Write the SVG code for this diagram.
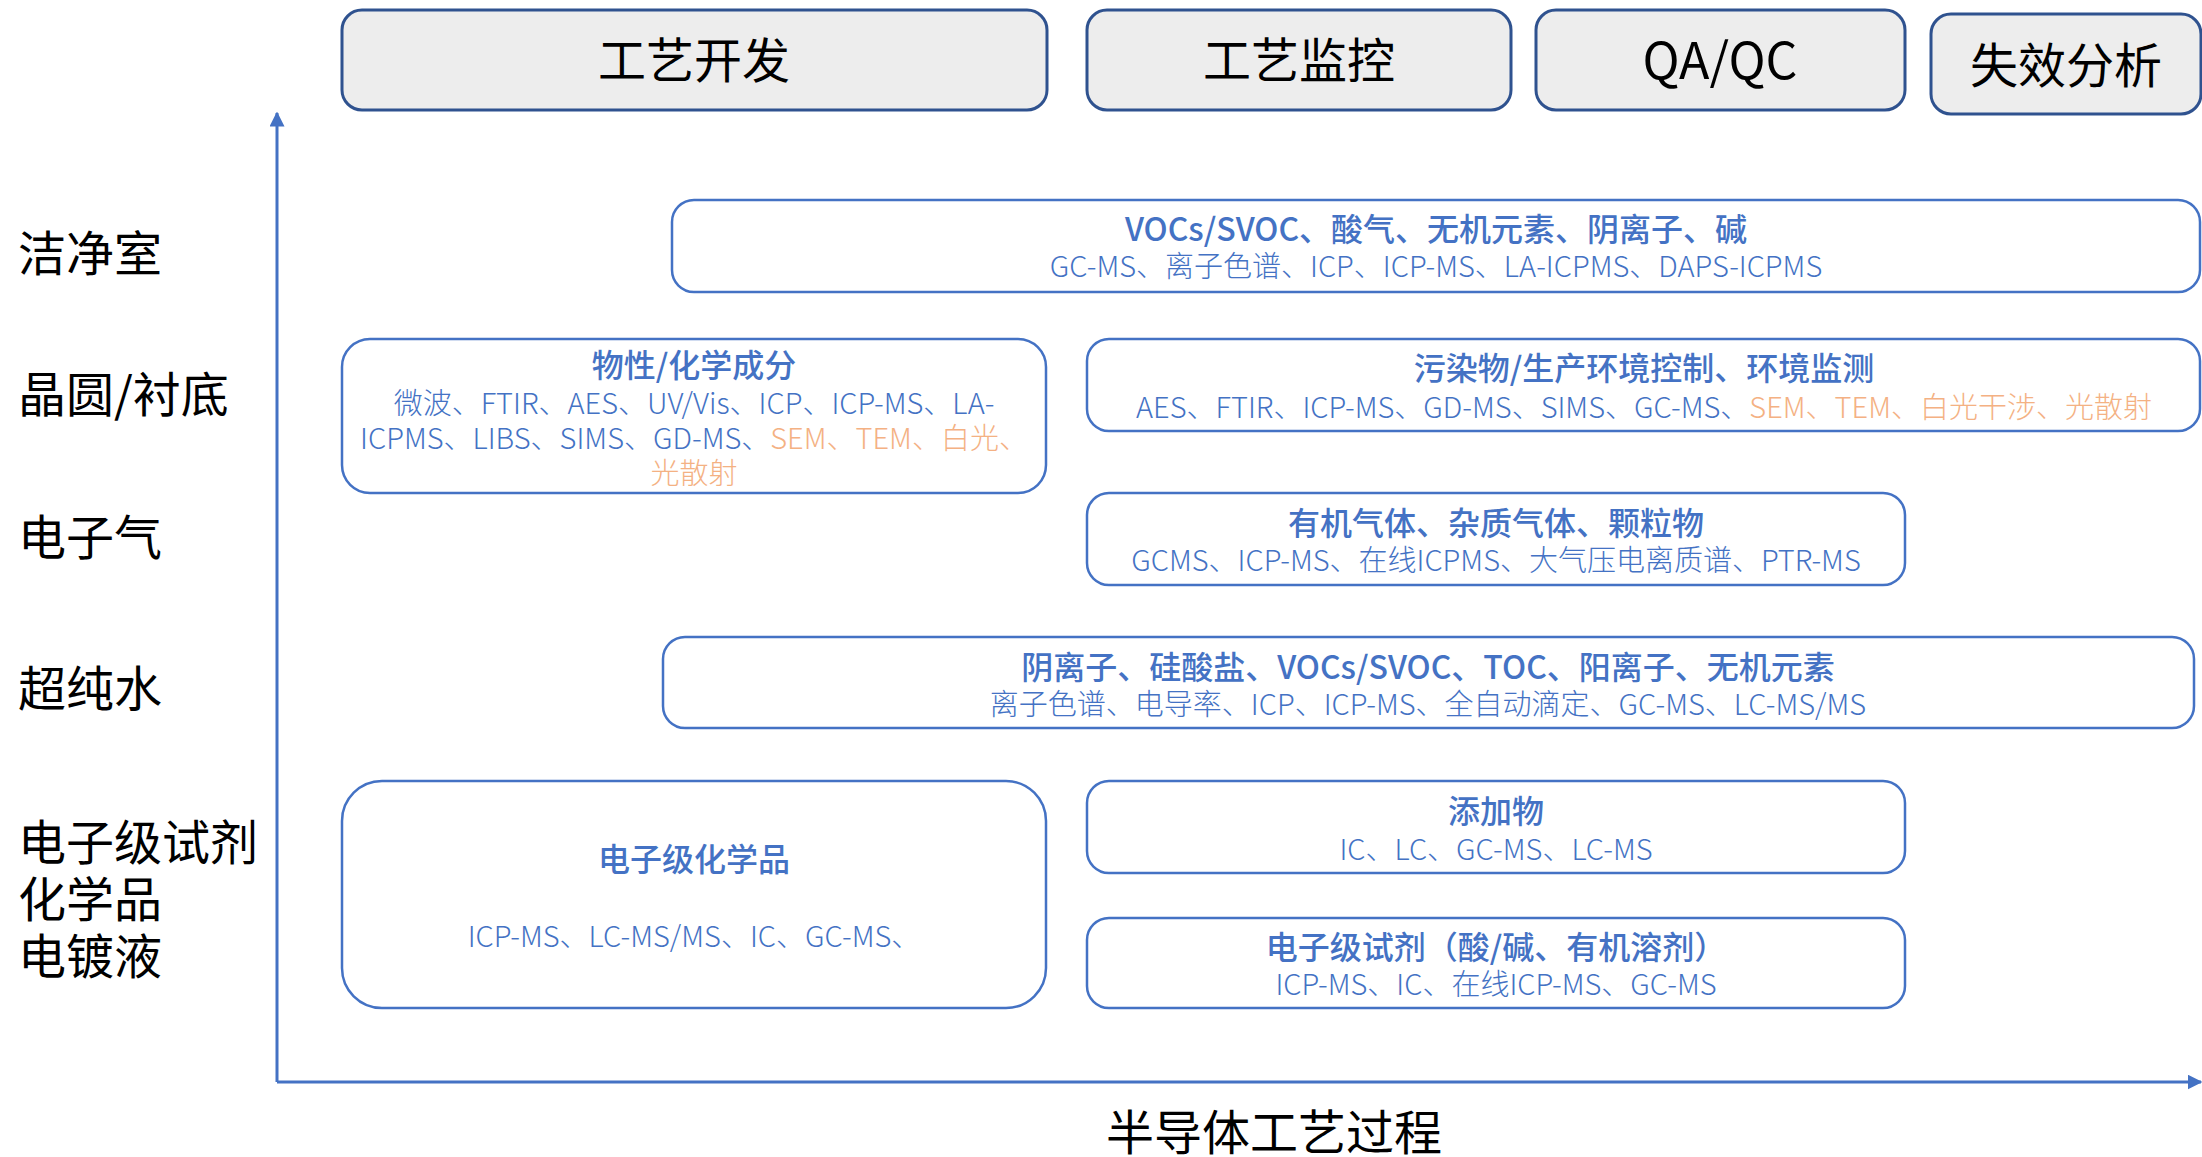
<svg xmlns="http://www.w3.org/2000/svg" width="2202" height="1157" viewBox="0 0 2202 1157">
<defs>
<marker id="arr" viewBox="0 0 10 10" refX="9" refY="5" markerWidth="5" markerHeight="5" orient="auto" markerUnits="strokeWidth">
<path d="M0,0 L10,5 L0,10 z" fill="#4472C4"/>
</marker>
<style>
.hdr{fill:#EDEDED;stroke:#2F528F;stroke-width:3}
.box{fill:#FFFFFF;stroke:#4472C4;stroke-width:2.5}
.ht{font-family:"Noto Sans CJK SC","Microsoft YaHei",sans-serif;font-size:48px;fill:#000;text-anchor:middle;dominant-baseline:central}
.lab{font-family:"Noto Sans CJK SC","Microsoft YaHei",sans-serif;font-size:48px;fill:#000;dominant-baseline:central}
.tt{font-family:"Noto Sans CJK SC","Microsoft YaHei",sans-serif;font-size:32px;font-weight:500;fill:#4472C4;text-anchor:middle;dominant-baseline:central}
.st{font-family:"Noto Sans CJK SC","Microsoft YaHei",sans-serif;font-size:29px;font-weight:300;fill:#4472C4;text-anchor:middle;dominant-baseline:central}
.or{fill:#F4B183}
.ax{stroke:#4472C4;stroke-width:3;fill:none}
</style>
</defs>
<rect width="2202" height="1157" fill="#FFFFFF"/>

<g id="connectors">
<line class="ax" x1="277" y1="1082" x2="277" y2="113" marker-end="url(#arr)"/>
<line class="ax" x1="277" y1="1082" x2="2201" y2="1082" marker-end="url(#arr)"/>
</g>

<g id="hdr-dev"><rect class="hdr" x="342" y="10" width="705" height="100" rx="20"/><text class="ht" x="694" y="57">工艺开发</text></g>
<g id="hdr-mon"><rect class="hdr" x="1087" y="10" width="424" height="100" rx="20"/><text class="ht" x="1299" y="57">工艺监控</text></g>
<g id="hdr-qa"><rect class="hdr" x="1536" y="10" width="369" height="100" rx="20"/><text class="ht" x="1720" y="57" style="font-size:50px">QA/QC</text></g>
<g id="hdr-fa"><rect class="hdr" x="1931" y="14" width="270" height="100" rx="20"/><text class="ht" x="2066" y="62">失效分析</text></g>

<g id="lab-clean"><text class="lab" x="18" y="250">洁净室</text></g>
<g id="lab-wafer"><text class="lab" x="18" y="391">晶圆/衬底</text></g>
<g id="lab-gas"><text class="lab" x="18" y="534">电子气</text></g>
<g id="lab-water"><text class="lab" x="18" y="685">超纯水</text></g>
<g id="lab-chem"><text class="lab" x="18" y="839">电子级试剂</text><text class="lab" x="18" y="896">化学品</text><text class="lab" x="18" y="953">电镀液</text></g>

<g id="box-clean"><rect class="box" x="672" y="200" width="1528" height="92" rx="22"/>
<text class="tt" x="1436" y="227">VOCs/SVOC、酸气、无机元素、阴离子、碱</text>
<text class="st" x="1436" y="264">GC-MS、离子色谱、ICP、ICP-MS、LA-ICPMS、DAPS-ICPMS</text></g>

<g id="box-phys"><rect class="box" x="342" y="339" width="704" height="154" rx="28"/>
<text class="tt" x="694" y="363">物性/化学成分</text>
<text class="st" x="694" y="401">微波、FTIR、AES、UV/Vis、ICP、ICP-MS、LA-</text>
<text class="st" x="694" y="436">ICPMS、LIBS、SIMS、GD-MS、<tspan class="or">SEM、TEM、白光、</tspan></text>
<text class="st or" x="694" y="471">光散射</text></g>

<g id="box-pollut"><rect class="box" x="1087" y="339" width="1113" height="92" rx="22"/>
<text class="tt" x="1644" y="366">污染物/生产环境控制、环境监测</text>
<text class="st" x="1644" y="405">AES、FTIR、ICP-MS、GD-MS、SIMS、GC-MS、<tspan class="or">SEM、TEM、白光干涉、光散射</tspan></text></g>

<g id="box-gas"><rect class="box" x="1087" y="493" width="818" height="92" rx="22"/>
<text class="tt" x="1496" y="521">有机气体、杂质气体、颗粒物</text>
<text class="st" x="1496" y="558">GCMS、ICP-MS、在线ICPMS、大气压电离质谱、PTR-MS</text></g>

<g id="box-water"><rect class="box" x="663" y="637" width="1531" height="91" rx="22"/>
<text class="tt" x="1428" y="665">阴离子、硅酸盐、VOCs/SVOC、TOC、阳离子、无机元素</text>
<text class="st" x="1428" y="702">离子色谱、电导率、ICP、ICP-MS、全自动滴定、GC-MS、LC-MS/MS</text></g>

<g id="box-echem"><rect class="box" x="342" y="781" width="704" height="227" rx="40"/>
<text class="tt" x="694" y="857">电子级化学品</text>
<text class="st" x="694" y="934">ICP-MS、LC-MS/MS、IC、GC-MS、</text></g>

<g id="box-add"><rect class="box" x="1087" y="781" width="818" height="92" rx="22"/>
<text class="tt" x="1496" y="809">添加物</text>
<text class="st" x="1496" y="847">IC、LC、GC-MS、LC-MS</text></g>

<g id="box-reag"><rect class="box" x="1087" y="918" width="818" height="90" rx="22"/>
<text class="tt" x="1496" y="945">电子级试剂（酸/碱、有机溶剂）</text>
<text class="st" x="1496" y="982">ICP-MS、IC、在线ICP-MS、GC-MS</text></g>

<g id="axis-label"><text class="ht" x="1274" y="1129">半导体工艺过程</text></g>
</svg>
